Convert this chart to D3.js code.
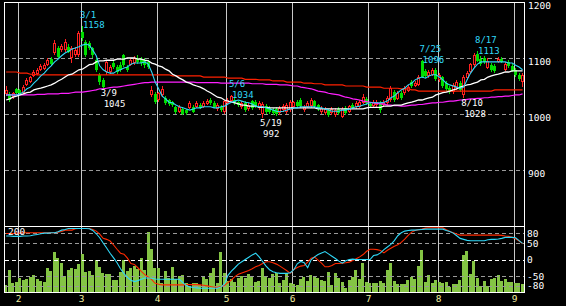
<!DOCTYPE html>
<html>
<head>
<meta charset="utf-8">
<title>Chart</title>
<script src="https://cdn.jsdelivr.net/npm/d3@7"></script>
<style>
  body { margin: 0; background: #000; }
  svg { display: block; }
  text { font-family: "DejaVu Sans Mono", monospace; font-size: 9.5px; }
  text.note { font-size: 9px; }
</style>
</head>
<body>
<script>
// trading days per month (Jan tail .. Sep head) and their labels
var monthDays = [4, 18, 22, 20, 19, 22, 20, 22, 3];
var monthLabels = ["", "2", "3", "4", "5", "6", "7", "8", "9"];
var priceTicks = [1200, 1100, 1000, 900];
var rciTicks = [80, 50, 0, -50, -80];

var openP = [1036,1036,1030,1044,1042,1038,1052,1057,1068,1071,
  1079,1080,1087,1098,1109,1118,1114,1114,1120,1100,
  1105,1105,1146,1129,1127,1118,1096,1070,1061,1075,
  1075,1091,1084,1088,1105,1084,1088,1091,1100,1098,
  1096,1093,1034,1036,1025,1034,1029,1025,1021,1012,
  1004,1009,1007,1011,1013,1013,1016,1012,1018,1025,
  1020,1009,1013,1004,1020,1023,1025,1021,1012,1020,
  1009,1023,1021,1011,1000,1014,1011,1007,1009,1002,
  1007,1004,1007,1012,1021,1025,1007,1013,1014,1023,
  1016,1004,1002,1007,1002,998,1009,995,1011,1004,
  1016,1012,1013,1020,1027,1018,1014,1016,1020,1016,
  1020,1025,1039,1027,1037,1037,1041,1057,1050,1052,
  1094,1077,1068,1070,1079,1061,1066,1055,1046,1039,
  1046,1055,1034,1064,1075,1088,1107,1098,1100,1082,
  1088,1086,1093,1098,1079,1093,1086,1079,1070,1057];
var highP = [1050,1040,1040,1046,1044,1052,1064,1068,1078,1082,
  1090,1091,1100,1102,1132,1122,1125,1134,1125,1122,
  1120,1148,1158,1132,1130,1120,1100,1073,1064,1096,
  1088,1095,1088,1092,1108,1088,1100,1104,1105,1102,
  1100,1096,1050,1039,1040,1050,1032,1027,1024,1014,
  1016,1012,1009,1023,1016,1023,1020,1023,1027,1029,
  1023,1019,1016,1025,1028,1034,1029,1024,1023,1023,
  1020,1025,1025,1023,1021,1018,1014,1011,1012,1014,
  1018,1019,1025,1024,1025,1028,1016,1023,1029,1025,
  1018,1014,1012,1009,1012,1011,1012,1012,1014,1016,
  1019,1023,1025,1036,1030,1021,1025,1025,1023,1025,
  1032,1050,1043,1041,1041,1050,1052,1061,1059,1070,
  1096,1080,1079,1082,1082,1073,1068,1059,1050,1055,
  1061,1059,1070,1077,1091,1109,1113,1104,1104,1100,
  1091,1089,1102,1102,1093,1096,1089,1082,1073,1073];
var lowP = [1032,1022,1027,1036,1036,1036,1050,1055,1066,1069,
  1077,1078,1085,1086,1106,1098,1110,1111,1109,1091,
  1102,1102,1130,1102,1114,1100,1075,1052,1045,1070,
  1072,1080,1072,1075,1084,1075,1085,1088,1089,1086,
  1082,1080,1030,1018,1022,1030,1016,1014,1012,1000,
  1002,998,999,1009,1002,1011,1009,1010,1016,1016,
  1010,1005,1004,1000,1018,1020,1016,1013,1009,1004,
  1005,1007,1011,1007,992,1000,1000,998,996,998,
  1004,1000,1004,1009,1011,1011,1004,1011,1011,1011,
  1005,1000,998,995,998,995,998,993,999,1002,
  1009,1009,1011,1018,1016,1011,1011,1012,1002,1013,
  1016,1021,1021,1025,1025,1034,1039,1046,1048,1050,
  1064,1064,1064,1068,1059,1057,1046,1041,1036,1036,
  1043,1039,1028,1061,1073,1084,1093,1086,1089,1080,
  1075,1073,1091,1091,1077,1082,1075,1066,1059,1048];
var closeP = [1043,1025,1037,1038,1038,1048,1061,1066,1075,1079,
  1086,1088,1096,1089,1127,1102,1121,1129,1111,1118,
  1114,1145,1136,1105,1118,1105,1079,1057,1048,1093,
  1084,1084,1075,1079,1088,1079,1096,1100,1093,1091,
  1087,1084,1043,1021,1038,1045,1020,1018,1016,1004,
  1012,1000,1002,1020,1004,1020,1011,1019,1023,1020,
  1013,1016,1007,1023,1025,1032,1020,1016,1020,1007,
  1016,1011,1014,1020,1018,1004,1004,1002,1000,1011,
  1014,1016,1021,1021,1014,1014,1012,1020,1025,1014,
  1009,1011,1009,998,1009,1007,1002,1009,1002,1014,
  1011,1020,1021,1030,1020,1014,1021,1021,1007,1021,
  1029,1046,1025,1037,1029,1046,1048,1050,1055,1066,
  1066,1068,1075,1079,1062,1070,1050,1045,1039,1052,
  1057,1043,1066,1073,1089,1105,1095,1089,1093,1095,
  1079,1077,1098,1093,1089,1086,1077,1070,1062,1070];

// moving averages: short (cyan), medium (white), long (red), longer (magenta)
var maShort = [1034,1034,1034,1034,1036,1039,1045,1048,1055,1061,
  1068,1073,1080,1086,1093,1098,1104,1109,1112,1116,
  1118,1120,1123,1125,1123,1114,1104,1086,1079,1075,
  1073,1073,1077,1079,1082,1084,1089,1091,1091,1091,
  1093,1089,1075,1057,1045,1032,1027,1021,1020,1016,
  1013,1011,1009,1007,1009,1011,1011,1013,1013,1013,
  1011,1011,1013,1014,1018,1021,1023,1025,1023,1021,
  1020,1018,1014,1013,1013,1011,1009,1007,1005,1004,
  1005,1007,1009,1011,1011,1013,1013,1013,1013,1013,
  1011,1011,1009,1007,1005,1005,1005,1007,1007,1009,
  1011,1013,1014,1016,1018,1020,1020,1020,1020,1021,
  1023,1029,1032,1038,1043,1046,1052,1055,1061,1064,
  1066,1064,1068,1070,1070,1066,1061,1055,1052,1050,
  1048,1046,1048,1061,1073,1082,1089,1093,1093,1093,
  1093,1093,1093,1093,1093,1091,1091,1087,1084,1079];
var maMid = [1025,1027,1030,1032,1034,1036,1038,1039,1043,1045,
  1046,1048,1050,1052,1055,1059,1062,1066,1070,1071,
  1075,1079,1080,1084,1088,1089,1093,1095,1095,1096,
  1096,1096,1098,1098,1098,1100,1100,1100,1098,1098,
  1096,1095,1091,1089,1086,1084,1080,1077,1071,1068,
  1064,1061,1057,1055,1052,1050,1048,1045,1041,1038,
  1034,1030,1029,1025,1023,1021,1020,1018,1016,1016,
  1014,1014,1014,1012,1012,1012,1011,1011,1011,1011,
  1011,1011,1011,1011,1011,1011,1011,1011,1011,1011,
  1009,1009,1009,1009,1009,1009,1009,1009,1009,1009,
  1009,1009,1009,1009,1011,1012,1012,1012,1012,1014,
  1014,1014,1016,1016,1016,1018,1020,1021,1023,1025,
  1025,1027,1029,1030,1034,1036,1038,1039,1041,1043,
  1045,1048,1050,1052,1053,1055,1057,1061,1062,1066,
  1068,1070,1071,1073,1075,1075,1077,1077,1077,1077];
var maLong = [1075,1075,1075,1075,1073,1073,1073,1071,1071,1070,
  1070,1070,1070,1070,1070,1070,1070,1070,1070,1070,
  1070,1070,1070,1070,1070,1070,1070,1070,1070,1070,
  1070,1070,1070,1070,1070,1070,1070,1070,1070,1070,
  1070,1070,1070,1070,1070,1070,1070,1070,1068,1068,
  1068,1068,1068,1068,1068,1068,1068,1066,1066,1066,
  1066,1066,1066,1066,1064,1064,1064,1064,1064,1062,
  1062,1062,1062,1061,1061,1061,1061,1059,1059,1059,
  1059,1057,1057,1057,1057,1057,1055,1055,1055,1054,
  1054,1054,1052,1052,1052,1052,1052,1052,1050,1050,
  1050,1050,1050,1050,1048,1048,1048,1048,1048,1046,
  1046,1046,1046,1046,1045,1045,1045,1043,1043,1041,
  1041,1041,1041,1041,1041,1041,1041,1041,1041,1041,
  1041,1041,1041,1041,1041,1041,1041,1041,1041,1041,
  1041,1043,1043,1043,1043,1043,1043,1043,1043,1043];
var maLonger = [1034,1034,1034,1034,1034,1034,1034,1034,1034,1035,
  1035,1035,1036,1036,1036,1036,1037,1037,1037,1038,
  1039,1039,1039,1040,1041,1042,1043,1045,1045,1046,
  1047,1048,1048,1049,1050,1051,1052,1053,1054,1055,
  1056,1056,1057,1057,1057,1057,1057,1057,1057,1057,
  1057,1057,1057,1057,1057,1056,1056,1056,1056,1056,
  1056,1056,1055,1055,1055,1055,1055,1055,1055,1055,
  1055,1054,1054,1054,1054,1053,1053,1053,1053,1052,
  1052,1052,1051,1050,1050,1048,1047,1046,1045,1043,
  1041,1040,1039,1037,1036,1035,1034,1032,1030,1029,
  1027,1026,1025,1023,1022,1021,1020,1019,1018,1018,
  1016,1016,1015,1015,1014,1014,1015,1016,1016,1017,
  1017,1018,1019,1020,1020,1021,1021,1022,1023,1023,
  1024,1025,1025,1026,1027,1027,1028,1028,1029,1029,
  1030,1030,1031,1031,1032,1032,1033,1034,1034,1036];

var volume = [25,75,33,36,49,42,44,52,58,44,
  38,36,83,72,136,116,100,55,75,83,
  78,94,127,69,73,58,110,86,66,62,
  62,42,42,69,110,72,83,89,78,116,
  75,201,145,81,81,31,73,47,86,44,
  55,58,33,22,33,31,25,51,44,64,
  83,33,136,64,39,44,36,47,55,47,
  62,55,36,39,81,51,47,62,64,33,
  42,64,31,30,25,44,53,38,58,51,
  47,42,38,69,25,64,47,36,16,42,
  51,75,44,97,36,33,33,33,38,33,
  75,100,38,28,28,28,42,51,44,88,
  141,36,58,33,42,36,33,36,20,28,
  28,42,125,138,61,106,47,22,38,22,
  44,47,58,39,44,36,36,33,31,28];

var rciShort = [71,71,70,70,70,71,71,72,74,76,
  78,80,80,81,81,84,89,91,94,94,
  94,94,94,94,93,88,78,66,50,35,
  19,5,-10,-28,-43,-54,-63,-67,-64,-60,
  -56,-56,-57,-59,-60,-60,-60,-60,-60,-60,
  -60,-70,-79,-83,-85,-86,-87,-87,-87,-87,
  -87,-87,-83,-74,-48,-35,-25,-14,-7,0,
  7,14,19,8,-6,-20,-31,-37,-40,-42,
  -42,-42,-40,-31,-13,-6,-10,-25,-1,8,
  15,20,24,17,10,3,-5,-11,-4,0,
  1,0,0,0,0,0,12,14,20,30,
  38,46,57,72,81,86,88,89,89,90,
  91,92,92,92,92,92,92,88,85,80,
  72,64,61,58,57,57,57,57,57,60,
  61,61,62,64,67,67,67,66,57,49];
var rciLong = [79,79,79,80,80,81,81,81,81,81,
  81,81,81,81,81,83,85,89,89,89,
  93,94,94,94,94,91,86,77,64,61,
  56,44,31,19,16,4,-12,-15,-25,-36,
  -46,-53,-61,-72,-75,-77,-77,-77,-77,-77,
  -77,-77,-76,-76,-76,-76,-77,-78,-80,-82,
  -84,-84,-82,-78,-70,-62,-52,-45,-41,-37,
  -33,-28,-22,-18,-12,-7,-7,-10,-14,-20,
  -27,-34,-42,-30,-24,-20,-18,-8,4,7,
  -2,-11,-22,-22,-18,-12,-12,-11,-10,-8,
  -3,2,8,15,25,31,31,30,27,20,
  28,34,40,45,52,62,73,83,88,90,
  92,95,96,96,96,96,96,90,85,81,
  77,74,74,74,74,74,74,74,74,74,
  74,74,74,73,71,70,67,63,56,48];

// highs / lows marked on the chart
var noteDay = [22, 28, 65, 74, 120, 132, 136];
var noteDate = ["3/1", "3/9", "5/6", "5/19", "7/25", "8/10", "8/17"];
var noteIsHigh = [true, false, true, false, true, false, true];

var W = 566, H = 306;
var n = closeP.length;

var svg = d3.select("body").append("svg")
    .attr("width", W)
    .attr("height", H);

svg.append("rect").attr("width", W).attr("height", H).attr("fill", "#000");

var x = d3.scaleBand().domain(d3.range(n)).range([4.4, 524.3]);
var bw = x.bandwidth();
function cx(i) { return x(i) + bw / 2; }

var y = d3.scaleLinear().domain([800, 1200]).range([226, 2]);
var yv = d3.scaleLinear().domain([0, 200]).range([292.5, 232.5]);
var yr = d3.scaleLinear().domain([-100, 100]).range([292.5, 226.5]);

// month start indices
var starts = [];
var acc = 0;
monthDays.forEach(function(d) { starts.push(acc); acc += d; });
var months = starts.map(function(s, k) { return {i: s, label: monthLabels[k]}; })
    .filter(function(m) { return m.label !== ""; });

// month grid lines through both panels
svg.selectAll("line.month")
    .data(months)
    .enter().append("line")
    .attr("x1", function(d) { return Math.round(x(d.i)) + 0.5; })
    .attr("x2", function(d) { return Math.round(x(d.i)) + 0.5; })
    .attr("y1", 2).attr("y2", 292.5)
    .attr("stroke", "#c8c8c8")
    .attr("stroke-width", 1);

svg.selectAll("text.month")
    .data(months)
    .enter().append("text")
    .attr("x", function(d) { return Math.round(x(d.i)) + 0.5; })
    .attr("y", 302)
    .attr("text-anchor", "middle")
    .attr("fill", "#f4f0a0")
    .text(function(d) { return d.label; });

// price grid
svg.selectAll("line.pgrid")
    .data(priceTicks.filter(function(v) { return v < 1200; }))
    .enter().append("line")
    .attr("x1", 5).attr("x2", 524)
    .attr("y1", function(d) { return Math.round(y(d)) + 0.5; })
    .attr("y2", function(d) { return Math.round(y(d)) + 0.5; })
    .attr("stroke", "#9a9a9a")
    .attr("stroke-dasharray", "4,3");

svg.selectAll("text.ptick")
    .data(priceTicks)
    .enter().append("text")
    .attr("x", 528)
    .attr("y", function(d) { return y(d) + 6.5; })
    .attr("fill", "#fff")
    .text(function(d) { return d; });

// volume bars
svg.selectAll("rect.vol")
    .data(volume)
    .enter().append("rect")
    .attr("x", function(d, i) { return Math.round(x(i)); })
    .attr("width", 3)
    .attr("y", function(d) { return Math.round(yv(d)); })
    .attr("height", function(d) { return Math.round(yv(0)) - Math.round(yv(d)); })
    .attr("fill", "#84c444")
    .attr("shape-rendering", "crispEdges");

// RCI grid
svg.selectAll("line.rgrid")
    .data(rciTicks)
    .enter().append("line")
    .attr("x1", 5).attr("x2", 524)
    .attr("y1", function(d) { return Math.round(yr(d)) + 0.5; })
    .attr("y2", function(d) { return Math.round(yr(d)) + 0.5; })
    .attr("stroke", function(d) { return d === 0 ? "#ffffff" : "#9a9a9a"; })
    .attr("stroke-dasharray", "4,3");

svg.selectAll("text.rtick")
    .data(rciTicks)
    .enter().append("text")
    .attr("x", 527)
    .attr("y", function(d) { return yr(d) + 3.5; })
    .attr("fill", "#fff")
    .text(function(d) { return d; });

// candles
var cg = svg.append("g").attr("shape-rendering", "crispEdges");
var days = d3.range(n);

cg.selectAll("line.wick")
    .data(days)
    .enter().append("line")
    .attr("x1", function(i) { return Math.floor(cx(i)) + 0.5; })
    .attr("x2", function(i) { return Math.floor(cx(i)) + 0.5; })
    .attr("y1", function(i) { return y(highP[i]); })
    .attr("y2", function(i) { return y(lowP[i]); })
    .attr("stroke", function(i) { return closeP[i] >= openP[i] ? "#ff2020" : "#00dd00"; });

cg.selectAll("rect.body")
    .data(days)
    .enter().append("rect")
    .attr("x", function(i) {
        var l = Math.floor(cx(i)) - 1;
        return closeP[i] >= openP[i] ? l + 0.5 : l;
    })
    .attr("width", function(i) { return closeP[i] >= openP[i] ? 2 : 3; })
    .attr("y", function(i) {
        var t = Math.round(y(Math.max(openP[i], closeP[i])));
        return closeP[i] >= openP[i] ? t + 0.5 : t;
    })
    .attr("height", function(i) {
        var h = Math.round(y(Math.min(openP[i], closeP[i]))) - Math.round(y(Math.max(openP[i], closeP[i])));
        return closeP[i] >= openP[i] ? Math.max(0, h - 1) : Math.max(1, h);
    })
    .attr("fill", function(i) { return closeP[i] >= openP[i] ? "#000" : "#00dd00"; })
    .attr("stroke", function(i) { return closeP[i] >= openP[i] ? "#ff2020" : "none"; });

// moving averages
function maLine(arr) {
    return d3.line().x(function(d, i) { return cx(i); }).y(function(d) { return y(d); })(arr);
}
var maSets = [[maLonger, "#ff20ff", 1.2], [maLong, "#ff2000", 1.2], [maMid, "#ffffff", 1.3], [maShort, "#30d8f8", 1.1]];
maSets.forEach(function(m) {
    svg.append("path")
        .attr("d", maLine(m[0]))
        .attr("fill", "none")
        .attr("stroke", m[1])
        .attr("stroke-width", m[2]);
});

// RCI lines
function rciLine(arr) {
    return d3.line().x(function(d, i) { return cx(i); }).y(function(d) { return yr(d); })(arr);
}
svg.append("path").attr("d", rciLine(rciLong)).attr("fill", "none").attr("stroke", "#ff2a00").attr("stroke-width", 1.1);
svg.append("path").attr("d", rciLine(rciShort)).attr("fill", "none").attr("stroke", "#30d8f8").attr("stroke-width", 1.1);

svg.append("text").attr("x", 8).attr("y", 235).attr("fill", "#fff").text("200");

// high / low notes (date above value)
noteDay.forEach(function(i, k) {
    var hi = noteIsHigh[k];
    var v = hi ? highP[i] : lowP[i];
    var py = y(v);
    var col = hi ? "#30d8f8" : "#ffffff";
    var base = hi ? py - 8 : py + 7.5;
    svg.append("text").attr("class", "note").attr("x", cx(i) - 2.5).attr("y", base)
        .attr("fill", col).text(noteDate[k]);
    svg.append("text").attr("class", "note").attr("x", cx(i) + 0.5).attr("y", base + 10.8)
        .attr("fill", col).text(v);
});

// frame
var fr = svg.append("g").attr("stroke", "#fff").attr("stroke-width", 1).attr("fill", "none")
    .attr("shape-rendering", "crispEdges");
fr.append("rect").attr("x", 4.5).attr("y", 2.5).attr("width", 520).attr("height", 290);
fr.append("line").attr("x1", 4.5).attr("x2", 524.5).attr("y1", 226.5).attr("y2", 226.5);
</script>
</body>
</html>
